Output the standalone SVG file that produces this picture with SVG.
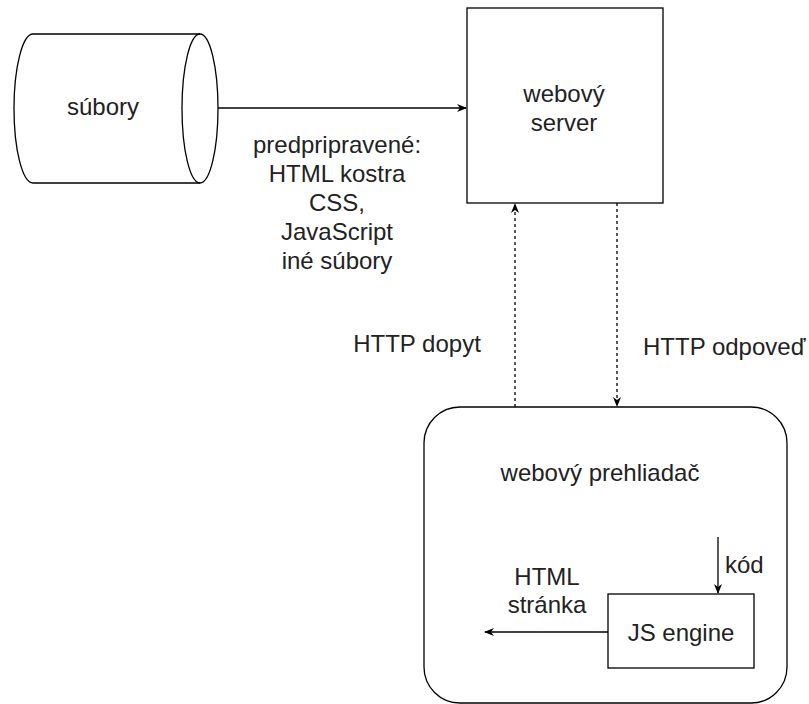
<svg xmlns="http://www.w3.org/2000/svg" width="809" height="704" viewBox="0 0 809 704">
<defs>
<style>
.shape{fill:#fff;stroke:#000;stroke-width:1.3}
.edge{fill:none;stroke:#000;stroke-width:1.3}
.dash{stroke-dasharray:3 3}
text{font-family:"Liberation Sans",Arial,sans-serif;font-size:24px;fill:#222}
.mid{text-anchor:middle}
</style>
<marker id="arr" viewBox="0 0 10 10" refX="9" refY="5" markerWidth="10" markerHeight="10" markerUnits="userSpaceOnUse" orient="auto">
<path d="M0,1 L10,5 L0,9 L3,5 Z" fill="#000" stroke="none"/>
</marker>
</defs>
<rect width="809" height="704" fill="#fff"/>
<g id="files">
<path class="shape" d="M33,34 L200,34 A18,74.5 0 0 1 200,183 L33,183 A19,74.5 0 0 1 33,34 Z"/>
<path class="edge" d="M200,34 A18,74.5 0 0 0 200,183"/>
<text class="mid" x="103" y="115">súbory</text>
</g>
<g id="server">
<rect class="shape" x="467" y="8" width="196" height="195"/>
<text class="mid" x="564" y="102">webový</text>
<text class="mid" x="564" y="131">server</text>
</g>
<g id="browser">
<rect class="shape" x="424" y="407" width="363" height="296" rx="36" ry="36"/>
<text class="mid" x="600" y="481">webový prehliadač</text>
</g>
<g id="jsengine">
<rect class="shape" x="608" y="594" width="146" height="74"/>
<text class="mid" x="681" y="641">JS engine</text>
</g>
<g id="connectors">
<line class="edge" x1="218" y1="108" x2="466" y2="108" marker-end="url(#arr)"/>
<line class="edge dash" x1="515" y1="407" x2="515" y2="204" marker-end="url(#arr)"/>
<line class="edge dash" x1="617" y1="203" x2="617" y2="406" marker-end="url(#arr)"/>
<line class="edge" x1="718" y1="537" x2="718" y2="593" marker-end="url(#arr)"/>
<line class="edge" x1="608" y1="632" x2="485" y2="632" marker-end="url(#arr)"/>
</g>
<g id="labels">
<text class="mid" x="337" y="153">predpripravené:</text>
<text class="mid" x="337" y="182">HTML kostra</text>
<text class="mid" x="337" y="211">CSS,</text>
<text class="mid" x="337" y="240">JavaScript</text>
<text class="mid" x="337" y="269">iné súbory</text>
<text class="mid" x="417" y="352">HTTP dopyt</text>
<text x="643" y="355">HTTP odpoveď</text>
<text x="725" y="573">kód</text>
<text class="mid" x="547" y="585">HTML</text>
<text class="mid" x="547" y="613">stránka</text>
</g>
</svg>
